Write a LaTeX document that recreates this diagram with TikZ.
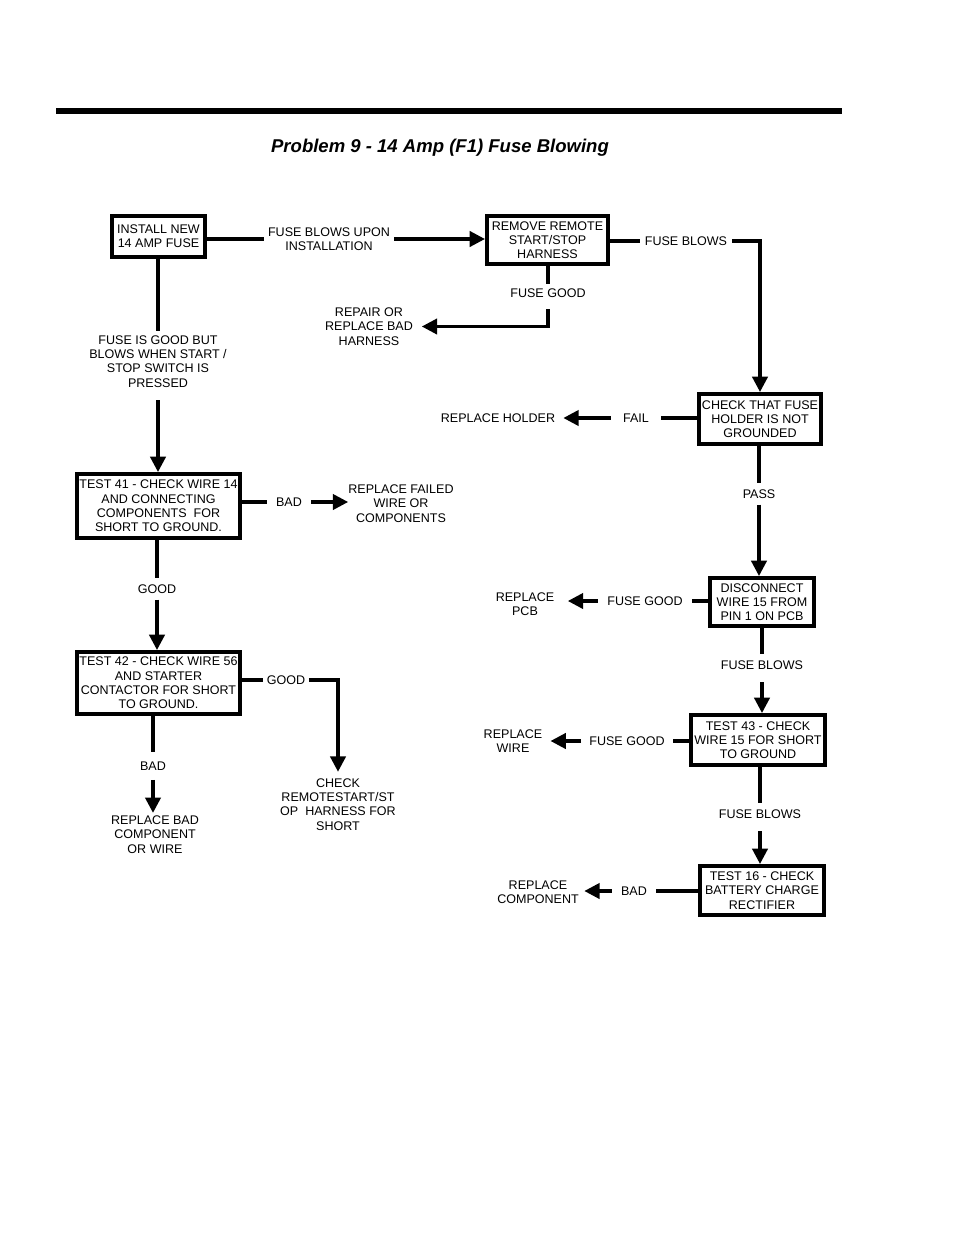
\documentclass[tikz,border=0pt]{standalone}
\usepackage{fontspec}
\setmainfont{Liberation Sans}
\usetikzlibrary{arrows.meta}
\newcommand\bxfont{\fontsize{9.4}{10.7}\selectfont}
\begin{document}
\begin{tikzpicture}[x=0.75pt,y=-0.75pt,
  box/.style={draw, line width=2.8pt, align=center, inner sep=1pt, font=\bxfont},
  lbl/.style={align=center, inner xsep=6pt, inner ysep=4.5pt, font=\bxfont},
  outc/.style={align=center, inner sep=5pt, font=\bxfont},
  conn/.style={line width=2.4pt},
  arr/.style={line width=2.4pt, -{Triangle[length=11.5pt,width=11.5pt]}},
]
\fill[white] (0,0) rectangle (954,1235);
\useasboundingbox (0,0) rectangle (954,1235);
% top bar and title
\fill[black] (56,108) rectangle (842,114);
\node[font=\fontsize{13.9}{16}\selectfont\bfseries\itshape] (title) at (440,148) {Problem 9 - 14 Amp (F1) Fuse Blowing};

% boxes
\node[box, minimum width=70pt, minimum height=31pt] (b1) at (158.5,236.5) {INSTALL NEW\\14 AMP FUSE};
\node[box, minimum width=91pt, minimum height=36.2pt] (b2) at (547.5,240) {REMOVE REMOTE\\START/STOP\\HARNESS};
\node[box, minimum width=91.7pt, minimum height=37.7pt] (b3) at (760,419) {CHECK THAT FUSE\\HOLDER IS NOT\\GROUNDED};
\node[box, minimum width=122.4pt, minimum height=48.2pt] (b4) at (158.5,506) {TEST 41 - CHECK WIRE 14\\AND CONNECTING\\COMPONENTS\ \ FOR\\SHORT TO GROUND.};
\node[box, minimum width=122.4pt, minimum height=46.7pt] (b5) at (158.5,683) {TEST 42 - CHECK WIRE 56\\AND STARTER\\CONTACTOR FOR SHORT\\TO GROUND.};
\node[box, minimum width=78.2pt, minimum height=36.2pt] (b6) at (762,602) {DISCONNECT\\WIRE 15 FROM\\PIN 1 ON PCB};
\node[box, minimum width=100.7pt, minimum height=37.7pt] (b7) at (758,740) {TEST 43 - CHECK\\WIRE 15 FOR SHORT\\TO GROUND};
\node[box, minimum width=93.2pt, minimum height=37pt] (b8) at (762,890.5) {TEST 16 - CHECK\\BATTERY CHARGE\\RECTIFIER};

% connector labels
\node[lbl, inner xsep=3pt] (l1) at (329,239) {FUSE BLOWS UPON\\INSTALLATION};
\node[lbl, inner xsep=3.5pt] (lfb) at (686,241) {FUSE BLOWS};
\node[lbl, inner ysep=3.5pt] (lfg) at (548,293) {FUSE GOOD};
\node[lbl, inner ysep=3.5pt] (lsw) at (158,361.5) {FUSE IS GOOD BUT\\BLOWS WHEN START /\\STOP SWITCH IS\\PRESSED};
\node[lbl, inner xsep=7pt] (lbad1) at (289,502) {BAD};
\node[lbl] (lgood1) at (157,589) {GOOD};
\node[lbl, inner xsep=2.5pt] (lgood2) at (286,680) {GOOD};
\node[lbl, inner ysep=7pt] (lbad2) at (153,766) {BAD};
\node[lbl, inner xsep=9pt] (lfail) at (636,418) {FAIL};
\node[lbl] (lpass) at (759,494) {PASS};
\node[lbl, inner xsep=7pt] (lfg2) at (645,601) {FUSE GOOD};
\node[lbl] (lfb2) at (762,665) {FUSE BLOWS};
\node[lbl] (lfg3) at (627,741) {FUSE GOOD};
\node[lbl] (lfb3) at (760,814) {FUSE BLOWS};
\node[lbl, inner xsep=7pt] (lbad3) at (634,891) {BAD};

% outcomes
\node[outc, inner xsep=6.5pt] (repair) at (369,326.5) {REPAIR OR\\REPLACE BAD\\HARNESS};
\node[outc, inner xsep=6pt] (rholder) at (498,418) {REPLACE HOLDER};
\node[outc, inner xsep=0pt] (rfail) at (401,503.5) {REPLACE FAILED\\WIRE OR\\COMPONENTS};
\node[outc, inner ysep=5pt] (check) at (338,804.5) {CHECK\\REMOTESTART/ST\\OP\ \ HARNESS FOR\\SHORT};
\node[outc, inner ysep=2pt] (rbad) at (155,834.5) {REPLACE BAD\\COMPONENT\\OR WIRE};
\node[outc, inner xsep=10pt] (rpcb) at (525,604.5) {REPLACE\\PCB};
\node[outc, inner xsep=6pt] (rwire) at (513,741) {REPLACE\\WIRE};
\node[outc, inner xsep=4pt] (rcomp) at (538,892) {REPLACE\\COMPONENT};

% connectors
\draw[conn] (b1.east |- l1) -- (l1.west);
\draw[arr] (l1.east) -- (l1.east -| b2.west);

\draw[conn] (b2.east |- lfb) -- (lfb.west);
\draw[arr] (lfb.east) -| (b3.north);

\draw[conn] (lfg.north |- b2.south) -- (lfg.north);
\draw[arr] ([yshift=-5pt]lfg.south) |- (repair.east);

\draw[conn] (lsw.north |- b1.south) -- (lsw.north);
\draw[arr] ([yshift=-6pt]lsw.south) -- (lsw.south |- b4.north);

\draw[conn] (b4.east |- lbad1) -- (lbad1.west);
\draw[arr] (lbad1.east) -- (lbad1.east -| rfail.west);

\draw[conn] (lgood1.north |- b4.south) -- (lgood1.north);
\draw[arr] (lgood1.south) -- (lgood1.south |- b5.north);

\draw[conn] (b5.east |- lgood2) -- (lgood2.west);
\draw[arr] (lgood2.east) -| (check.north);

\draw[conn] (lbad2.north |- b5.south) -- (lbad2.north);
\draw[arr] (lbad2.south) -- (lbad2.south |- rbad.north);

\draw[conn] (b3.west |- lfail) -- (lfail.east);
\draw[arr] (lfail.west) -- (lfail.west -| rholder.east);

\draw[conn] (lpass.north |- b3.south) -- (lpass.north);
\draw[arr] (lpass.south) -- (lpass.south |- b6.north);

\draw[conn] (b6.west |- lfg2) -- (lfg2.east);
\draw[arr] (lfg2.west) -- (lfg2.west -| rpcb.east);

\draw[conn] (lfb2.north |- b6.south) -- (lfb2.north);
\draw[arr] ([yshift=-5pt]lfb2.south) -- (lfb2.south |- b7.north);

\draw[conn] (b7.west |- lfg3) -- (lfg3.east);
\draw[arr] (lfg3.west) -- (lfg3.west -| rwire.east);

\draw[conn] (lfb3.north |- b7.south) -- (lfb3.north);
\draw[arr] ([yshift=-5pt]lfb3.south) -- (lfb3.south |- b8.north);

\draw[conn] (b8.west |- lbad3) -- (lbad3.east);
\draw[arr] (lbad3.west) -- (lbad3.west -| rcomp.east);
\end{tikzpicture}
\end{document}
